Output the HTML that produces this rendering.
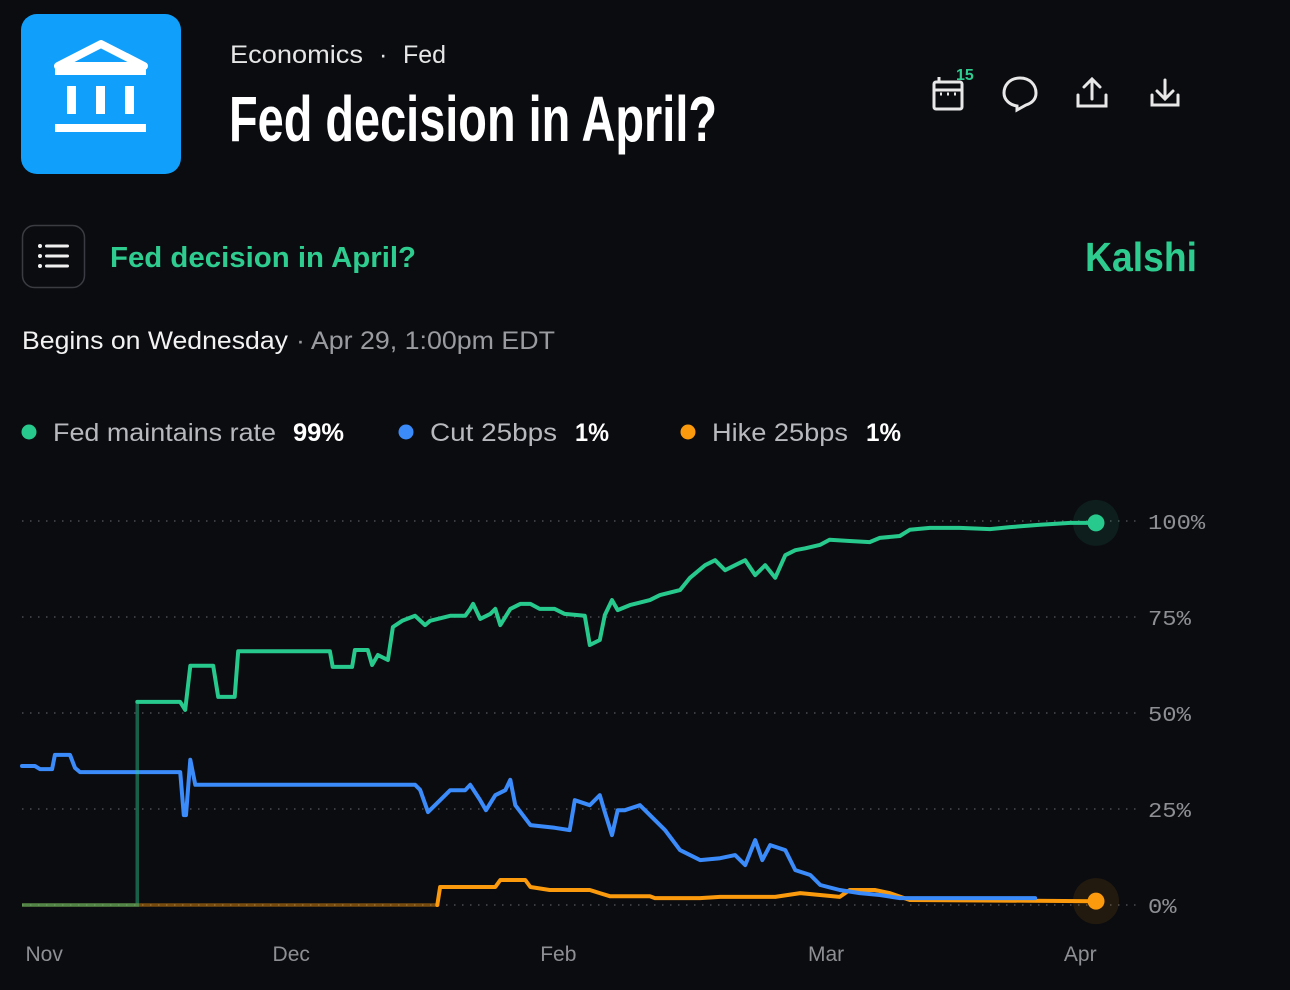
<!DOCTYPE html>
<html><head><meta charset="utf-8"><style>
html,body{margin:0;padding:0;background:#0b0c10;width:1290px;height:990px;overflow:hidden}
svg{display:block}
text{font-family:"Liberation Sans",sans-serif}
</style></head><body>
<svg id="page" width="1290" height="990" viewBox="0 0 1290 990" xmlns="http://www.w3.org/2000/svg">
<rect width="1290" height="990" fill="#0b0c10"/>
<g>
<rect x="21" y="14" width="160" height="160" rx="16" fill="#10a0fb"/>
<polygon points="101,44 58,66 144,66" fill="none" stroke="#fff" stroke-width="8" stroke-linejoin="round"/>
<rect x="55" y="68" width="91" height="7" fill="#fff"/>
<rect x="67" y="86" width="9" height="28" fill="#fff"/><rect x="96" y="86" width="9" height="28" fill="#fff"/><rect x="125" y="86" width="9" height="28" fill="#fff"/>
<rect x="55" y="124" width="91" height="8" fill="#fff"/>
</g>
<g font-size="25" fill="#e6e6e6">
<text x="230" y="63" textLength="133" lengthAdjust="spacingAndGlyphs">Economics</text>
<text x="379" y="63">·</text>
<text x="403" y="63" textLength="43" lengthAdjust="spacingAndGlyphs">Fed</text>
</g>
<text x="229" y="141" font-size="64" font-weight="bold" fill="#fff" style="font-family:'Liberation Sans Narrow','Liberation Sans',sans-serif" textLength="488" lengthAdjust="spacingAndGlyphs">Fed decision in April?</text>
<g fill="none" stroke="#e8e8e8" stroke-width="3">
<rect x="934" y="82" width="28" height="27" rx="2"/><line x1="934" y1="90" x2="962" y2="90"/><line x1="939" y1="77" x2="939" y2="83"/>
<line x1="940" y1="94" x2="942" y2="94"/><line x1="947" y1="94" x2="949" y2="94"/><line x1="954" y1="94" x2="956" y2="94"/>
</g>
<text x="956" y="80" font-size="16" font-weight="bold" fill="#2ecc8f">15</text>
<path d="M1020,78 C1009,78 1004,86 1004,93 C1004,100 1010,105 1017,106 L1017,110 L1026,105 C1032,103 1036,99 1036,93 C1036,85 1030,78 1020,78 Z" fill="none" stroke="#e8e8e8" stroke-width="3"/>
<g fill="none" stroke="#e8e8e8" stroke-width="3" stroke-linecap="round"><path d="M1078,95 V106 H1106 V95"/><path d="M1092,99 V80 M1084,87 L1092,79 L1100,87"/></g>
<g fill="none" stroke="#e8e8e8" stroke-width="3" stroke-linecap="round"><path d="M1152,95 V105 H1178 V95"/><path d="M1165,80 V98 M1157,91 L1165,99 L1173,91"/></g>
<g>
<rect x="22.5" y="225.5" width="62" height="62" rx="12" fill="none" stroke="#3a3c42" stroke-width="1.5"/>
<g fill="#f0f0f0"><circle cx="40" cy="246" r="2"/><circle cx="40" cy="256" r="2"/><circle cx="40" cy="266" r="2"/>
<rect x="45" y="244.5" width="24" height="3" rx="1.5"/><rect x="45" y="254.5" width="24" height="3" rx="1.5"/><rect x="45" y="264.5" width="24" height="3" rx="1.5"/></g>
</g>
<text x="110" y="267" font-size="29" font-weight="bold" fill="#2ecc8f" textLength="306" lengthAdjust="spacingAndGlyphs">Fed decision in April?</text>
<text x="1085" y="271" font-size="41" font-weight="bold" fill="#2ecc8f" textLength="112" lengthAdjust="spacingAndGlyphs">Kalshi</text>
<g font-size="25">
<text x="22" y="349" fill="#f2f2f2" textLength="266" lengthAdjust="spacingAndGlyphs">Begins on Wednesday</text>
<text x="296" y="349" fill="#9a9ba0" textLength="259" lengthAdjust="spacingAndGlyphs">· Apr 29, 1:00pm EDT</text>
</g>
<g id="legend"></g>
<g id="chart"></g>
</svg>
<script>
const NS="http://www.w3.org/2000/svg";
const xTickLabels=["Nov","Dec","Feb","Mar","Apr"];
const xTickDays=[3.1,37.6,74.9,112.3,147.8];
const yTicks=[0,25,50,75,100];
const seriesNames=["Fed maintains rate","Cut 25bps","Hike 25bps"];
const seriesColors=["#28c98d","#3b8bfb","#fb9a0c"];
const seriesLatest=["99%","1%","1%"];
const seriesStart=[16.1,0,58.0];
const maintainDays=[16.1,22.1,22.8,23.5,26.7,27.4,29.7,30.2,43.0,43.4,46.1,46.5,48.3,48.9,49.7,51.1,51.8,53.1,54.9,56.3,57.0,59.8,61.9,62.6,63.0,64.0,65.4,66.1,66.8,68.2,69.6,71.0,72.3,74.4,75.8,78.6,79.3,80.7,81.4,82.4,83.2,84.9,87.7,89.1,91.9,93.3,95.4,96.8,98.2,99.6,101.0,102.4,103.8,105.2,106.6,108.0,109.4,111.5,112.8,115.6,118.4,119.8,122.6,124.0,126.8,131.0,135.2,138.0,142.2,146.4,150.0];
const maintainVals=[52.9,52.9,50.8,62.3,62.3,54.2,54.2,66.1,66.1,62.0,62.0,66.4,66.4,62.5,65.1,63.8,72.4,74.0,75.3,72.9,74.0,75.3,75.3,77.1,78.4,74.5,75.8,77.1,72.9,77.1,78.4,78.4,77.1,77.1,75.8,75.3,67.7,69.0,75.5,79.4,76.8,78.1,79.4,80.7,82.0,85.2,88.5,89.8,87.2,88.5,89.8,85.9,88.5,85.2,91.1,92.4,92.9,93.8,95.1,94.8,94.5,95.6,96.1,97.7,98.2,98.2,97.9,98.4,99.0,99.5,99.5];
const cutDays=[0,1.8,2.5,4.2,4.6,6.7,7.4,8.1,22.1,22.6,22.9,23.5,24.2,54.9,55.6,56.7,58.4,59.8,61.9,62.6,64.0,64.8,66.1,67.5,68.2,68.9,71.0,74.4,76.5,77.2,79.3,80.7,81.4,82.4,83.2,84.2,86.3,88.4,89.8,91.9,94.7,97.5,99.6,101.0,102.4,103.4,104.5,106.6,108.0,110.1,111.5,114.2,117.0,119.8,122.6,141.5];
const cutVals=[36.2,36.2,35.4,35.4,39.1,39.1,35.7,34.6,34.6,23.4,23.4,37.8,31.3,31.3,30.0,24.2,27.3,29.9,29.9,31.3,27.3,24.7,28.6,29.9,32.6,26.0,20.8,20.1,19.5,27.3,26.0,28.6,24.2,18.2,24.7,24.7,26.0,22.1,19.5,14.3,11.7,12.2,13.0,10.4,16.9,11.7,15.6,14.3,9.1,7.8,5.2,3.9,3.1,2.6,1.8,1.8];
const hikeDays=[58.0,58.4,66.1,66.8,70.3,71.0,73.7,79.3,80.7,82.1,87.7,88.4,94.7,97.5,105.2,108.7,114.2,115.6,119.1,121.2,124.0,150.0];
const hikeVals=[0,4.7,4.7,6.5,6.5,4.7,3.9,3.9,3.1,2.3,2.3,1.8,1.8,2.1,2.1,3.1,2.1,3.9,3.9,3.1,1.3,1.0];

const X0=22,X1=1096,DMAX=150,Y0=905,Y1=521;
function xs(d){return X0+(X1-X0)*d/DMAX;}
function ys(v){return Y0-(Y0-Y1)*v/100;}
const chart=document.getElementById('chart');
function mk(tag,attrs,parent){const e=document.createElementNS(NS,tag);for(const k in attrs)e.setAttribute(k,attrs[k]);(parent||chart).appendChild(e);return e;}

yTicks.forEach((t,i)=>{
  const g=mk('line',{x1:22,x2:1140,y1:ys(t),y2:ys(t),stroke:'#4a4c52','stroke-width':1.5,'stroke-dasharray':'1.5 6.5'});
  
  
  const tx=mk('text',{x:1148,y:ys(t)+8,'font-size':21,fill:'#8e8f94',style:'font-family:"Liberation Mono",monospace',textLength:(String(t).length+1)*14.3,lengthAdjust:'spacingAndGlyphs'});
  tx.textContent=t+'%';
  
  
});
xTickLabels.forEach((l,i)=>{
  const tx=mk('text',{x:xs(xTickDays[i]),y:961,'font-size':21,fill:'#8e8f94','text-anchor':'middle'});
  tx.textContent=l;
  
  
});
const allDays=[maintainDays,cutDays,hikeDays],allVals=[maintainVals,cutVals,hikeVals];
[2,1,0].forEach(i=>{
  const d=allDays[i],v=allVals[i],c=seriesColors[i];
  if(seriesStart[i]>0){
    const f=mk('path',{d:`M${xs(0)},${ys(0)} H${xs(seriesStart[i])} V${ys(v[0])}`,fill:'none',stroke:c,'stroke-width':3.5,opacity:0.45});
    
    
  }
  const pts=d.map((x,j)=>xs(x).toFixed(1)+','+ys(v[j]).toFixed(1)).join(' ');
  const p=mk('polyline',{points:pts,fill:'none',stroke:c,'stroke-width':4,'stroke-linejoin':'round','stroke-linecap':'round'});
  
  
  if(i!==1){
    const lx=xs(d[d.length-1]),ly=ys(v[v.length-1]);
    const h=mk('circle',{cx:lx,cy:ly,r:23,fill:c,opacity:0.1});
    
    
    const e=mk('circle',{cx:lx,cy:ly,r:8.5,fill:c});
    
    
  }
});
const legend=document.getElementById('legend');
const lx=[29,406,688];
const nameW=[223,127,136];
const pctX=[293,575,866];
const pctW=[51,34,35];
seriesNames.forEach((n,i)=>{
  const g=mk('g',{},legend);
  
  
  mk('circle',{cx:lx[i],cy:432,r:7.5,fill:seriesColors[i]},g);
  const t=mk('text',{x:lx[i]+24,y:441,'font-size':25,fill:'#b8b9be',textLength:nameW[i],lengthAdjust:'spacingAndGlyphs'},g);t.textContent=n;
  const p=mk('text',{x:pctX[i],y:441,'font-size':25,'font-weight':'bold',fill:'#fff',textLength:pctW[i],lengthAdjust:'spacingAndGlyphs'},g);p.textContent=seriesLatest[i];
});
</script>
</body></html>
